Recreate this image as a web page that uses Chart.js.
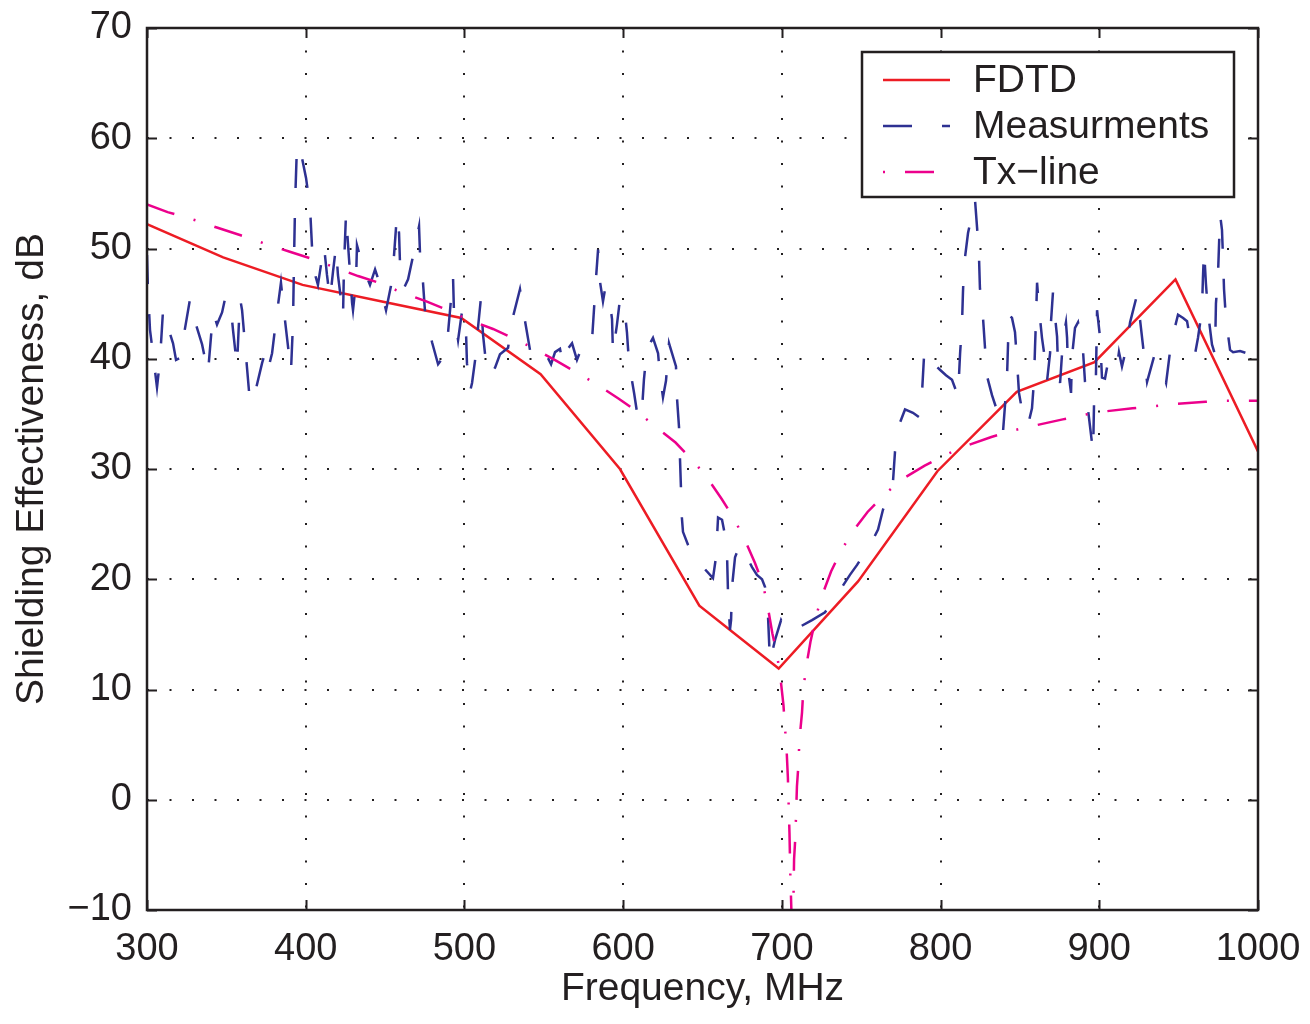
<!DOCTYPE html>
<html>
<head>
<meta charset="utf-8">
<title>Shielding Effectiveness</title>
<script src="https://cdn.jsdelivr.net/npm/chart.js@4.4.1/dist/chart.umd.min.js"></script>
<style>
  html, body { margin: 0; padding: 0; background: #fff; }
  #wrap { width: 1310px; height: 1024px; }
</style>
</head>
<body>
<div id="wrap"><canvas id="seChart" width="1310" height="1024"></canvas></div>
<script>
// FDTD simulation, coarse frequency grid
var fdtdFreq = [300, 348, 398, 448, 498, 548, 598, 648, 698, 748, 798, 848, 897, 948, 1000];
var fdtdSE = [52.2, 49.2, 46.7, 45.2, 43.7, 38.6, 30.0, 17.6, 11.9, 19.8, 29.8, 37.0, 39.7, 47.2, 31.6];

// measured shielding effectiveness (noisy sweep)
var measFreq = [
  300.0, 300.6, 301.9, 303.2, 306.3, 308.2, 310.1, 312.0, 316.4, 318.3,
  321.4, 322.7, 327.1, 329.6, 334.7, 338.4, 341.6, 344.1, 347.3, 349.1,
  352.3, 354.2, 356.7, 358.6, 359.9, 361.7, 364.9, 367.4, 372.5, 374.3,
  376.2, 378.8, 381.3, 384.4, 386.3, 390.7, 392.0, 392.6, 393.3, 394.5,
  396.4, 400.2, 402.7, 404.6, 407.7, 411.5, 413.4, 415.3, 417.2, 419.1,
  420.3, 422.2, 423.5, 424.1, 425.4, 426.6, 429.2, 429.8, 431.7, 432.3,
  436.1, 440.5, 443.7, 446.2, 450.6, 453.7, 455.6, 457.5, 458.8, 459.4,
  461.9, 464.5, 467.6, 471.4, 472.0, 473.9, 475.2, 479.6, 483.4, 485.9,
  489.7, 491.5, 492.8, 493.4, 496.0, 498.5, 499.1, 501.0, 501.6, 503.5,
  504.8, 507.3, 508.6, 510.4, 511.7, 513.6, 516.1, 519.3, 522.4, 527.5,
  530.6, 535.0, 538.2, 541.3, 545.7, 550.8, 554.6, 557.1, 560.2, 562.1,
  564.6, 567.8, 570.9, 572.8, 576.6, 580.4, 581.6, 582.9, 584.2, 585.4,
  587.3, 588.6, 590.5, 593.0, 593.6, 596.1, 598.0, 599.3, 601.2, 602.4,
  603.7, 606.9, 609.4, 611.9, 613.1, 615.0, 618.8, 622.0, 623.2, 625.1,
  627.0, 628.9, 633.3, 633.9, 635.2, 635.8, 636.4, 637.0, 637.7, 640.9,
  645.3, 651.6, 656.6, 658.5, 659.8, 662.3, 664.2, 665.5, 666.1, 667.3,
  668.0, 668.6, 670.5, 673.6, 675.5, 681.2, 684.3, 687.5, 689.4, 691.3,
  692.5, 695.7, 699.5, 702.6, 705.8, 711.5, 719.0, 727.2, 736.6, 742.9,
  747.4, 757.4, 760.6, 763.7, 770.0, 771.3, 774.4, 777.6, 782.6, 786.4,
  788.3, 789.6, 791.5, 795.9, 799.6, 803.4, 807.2, 811.0, 812.3, 813.5,
  814.1, 814.8, 817.3, 821.7, 823.0, 824.2, 824.8, 826.7, 828.0, 829.3,
  832.4, 834.9, 839.3, 840.6, 841.9, 842.5, 843.1, 845.0, 846.9, 848.2,
  849.4, 852.6, 855.1, 857.6, 858.9, 859.5, 860.1, 860.8, 862.0, 863.9,
  866.4, 867.1, 869.0, 869.6, 870.8, 871.5, 873.4, 874.0, 875.3, 877.2,
  879.0, 879.7, 880.3, 882.2, 882.8, 884.7, 886.6, 889.8, 891.0, 892.9,
  894.8, 896.1, 896.7, 897.9, 898.6, 900.5, 901.7, 903.6, 905.5, 908.0,
  911.2, 912.4, 914.3, 916.8, 919.4, 923.8, 925.7, 927.6, 930.1, 934.5,
  938.3, 942.1, 945.2, 949.6, 952.8, 955.3, 958.4, 960.3, 962.2, 964.7,
  965.3, 966.0, 967.2, 968.5, 971.0, 972.9, 973.5, 974.8, 976.1, 977.3,
  978.0, 978.6, 979.8, 982.4, 984.3, 988.7, 995.0, 1000.0
];
var measSE = [
  49.4, 46.3, 42.6, 41.1, 37.4, 39.9, 44.4, 43.4, 41.4, 39.9,
  40.1, 41.7, 45.4, 43.7, 41.3, 38.7, 44.2, 43.1, 44.2, 45.4,
  45.4, 42.6, 39.3, 45.5, 44.4, 41.4, 36.0, 36.5, 39.6, 40.5,
  39.0, 40.5, 43.5, 46.9, 44.3, 38.8, 43.3, 48.7, 54.1, 59.4,
  59.1, 56.4, 53.8, 48.3, 46.7, 50.3, 47.6, 45.4, 47.9, 50.2,
  47.6, 45.4, 43.8, 48.3, 53.2, 50.5, 45.1, 44.4, 47.0, 50.3,
  48.3, 46.7, 48.1, 47.0, 44.4, 46.6, 49.3, 53.1, 51.4, 48.7,
  46.4, 47.2, 49.3, 52.0, 49.6, 46.9, 44.2, 41.5, 39.5, 40.0,
  42.4, 45.3, 47.5, 44.3, 41.7, 44.3, 44.4, 42.4, 39.6, 37.0,
  37.8, 40.5, 42.9, 45.5, 42.2, 39.6, 38.5, 39.2, 40.4, 41.0,
  43.8, 46.3, 43.4, 40.8, 39.9, 40.6, 39.5, 40.6, 40.9, 39.5,
  40.8, 41.4, 39.9, 40.6, 40.4, 41.7, 44.4, 47.3, 49.9, 47.0,
  45.2, 46.3, 46.3, 43.6, 40.5, 43.1, 45.4, 45.0, 44.1, 42.4,
  39.6, 36.9, 34.5, 35.4, 38.1, 40.9, 41.9, 40.5, 38.5, 36.5,
  38.0, 41.4, 39.3, 36.5, 33.8, 31.0, 28.4, 25.6, 24.3, 23.1,
  21.8, 20.9, 20.1, 22.0, 25.6, 25.4, 24.0, 22.0, 18.6, 15.4,
  16.3, 19.3, 22.0, 23.1, 22.7, 21.1, 20.4, 20.0, 19.3, 16.6,
  12.5, 14.5, 16.3, 15.4, 15.1, 15.7, 16.3, 17.0, 19.0, 20.4,
  21.3, 23.6, 24.5, 26.3, 28.8, 31.6, 34.2, 35.4, 35.1, 34.7,
  36.9, 40.3, 40.8, 39.5, 39.0, 38.5, 38.1, 36.6, 40.5, 43.1,
  46.0, 48.5, 51.4, 54.4, 51.9, 49.3, 46.4, 43.8, 41.0, 38.4,
  36.7, 35.6, 33.3, 35.8, 38.5, 41.3, 44.0, 43.7, 42.4, 39.7,
  36.9, 34.3, 34.0, 35.5, 38.1, 41.0, 43.5, 46.9, 44.6, 41.9,
  39.3, 38.0, 40.5, 43.4, 46.0, 44.7, 42.0, 39.2, 37.8, 41.9,
  43.3, 41.9, 39.0, 36.9, 40.2, 42.8, 43.3, 40.6, 37.9, 35.4,
  33.1, 31.5, 36.0, 38.5, 44.4, 41.9, 38.3, 38.2, 39.7, 39.0,
  39.3, 40.6, 39.3, 40.8, 43.3, 45.8, 43.5, 41.1, 37.9, 40.2,
  39.6, 37.8, 41.4, 44.0, 43.7, 43.4, 40.8, 40.4, 41.9, 44.4,
  47.3, 49.9, 46.8, 44.2, 41.3, 40.4, 45.0, 47.6, 53.1, 51.7,
  49.0, 46.3, 43.6, 40.8, 40.6, 40.7, 40.4, 40.1
];

// transmission-line model
var txFreq = [
  300, 313, 332, 344, 359, 373, 390, 403, 420, 433,
  446, 459, 476, 488, 500, 518, 530, 543, 558, 570,
  582, 597, 609, 619, 633, 643, 652, 662, 669, 676,
  683, 688, 691, 694, 697, 699, 701, 702, 703, 703.8,
  704.2, 704.8, 705.3, 706, 706.8, 707.7, 708.5, 709.5, 710.5, 711,
  712.7, 713.4, 715, 718, 721, 724.5, 731, 737, 744, 754,
  764, 776, 790, 802, 814, 832, 846, 858, 877, 890,
  902, 921, 935, 948, 967, 980, 1000
];
var txSE = [
  54.0, 53.3, 52.5, 51.9, 51.2, 50.5, 49.7, 49.1, 48.2, 47.5,
  46.9, 46.1, 45.2, 44.5, 43.7, 42.7, 41.9, 41.0, 39.8, 38.8,
  37.8, 36.4, 35.2, 34.0, 32.4, 30.9, 29.4, 27.3, 25.7, 23.8,
  21.5, 19.6, 17.6, 15.1, 13.1, 11.2, 8.6, 6.5, 4.5, 2.0,
  0.0, -3.0, -6.6, -10.0, -14.0, -5.4, -3.4, 1.2, 3.3, 5.3,
  7.9, 9.7, 11.8, 14.3, 16.3, 18.2, 20.7, 22.5, 24.2, 26.1,
  27.6, 29.1, 30.3, 31.2, 32.0, 32.9, 33.5, 33.9, 34.5, 34.9,
  35.2, 35.5, 35.7, 35.9, 36.1, 36.2, 36.2
];

var seriesNames = ["FDTD", "Measurments", "Tx\u2212line"];
var xTitle = "Frequency, MHz";
var yTitle = "Shielding Effectiveness, dB";

(function () {
  var ink = "#231f20";
  var fontFamily = "'Liberation Sans', Arial, Helvetica, sans-serif";
  var red = "#ed1c24";
  var blue = "#2e3192";
  var magenta = "#ec008c";
  var measDash = [29, 30];
  var txDash = [29, 20, 2, 20];

  function pairs(xs, ys) {
    return xs.map(function (x, i) {
      return { x: x, y: ys[i] };
    });
  }

  // box, inward tick marks and the legend, MATLAB style
  var framePlugin = {
    id: "frame",
    afterDraw: function (chart) {
      var ctx = chart.ctx;
      var a = chart.chartArea;
      var xs = chart.scales.x;
      var ys = chart.scales.y;
      var tick = 10;
      ctx.save();
      ctx.setLineDash([]);
      ctx.strokeStyle = ink;
      ctx.lineWidth = 2;
      ctx.beginPath();
      xs.ticks.forEach(function (t) {
        var px = Math.round(xs.getPixelForValue(t.value)) + 0.5;
        ctx.moveTo(px, a.bottom);
        ctx.lineTo(px, a.bottom - tick);
        ctx.moveTo(px, a.top);
        ctx.lineTo(px, a.top + tick);
      });
      ys.ticks.forEach(function (t) {
        var py = Math.round(ys.getPixelForValue(t.value)) + 0.5;
        ctx.moveTo(a.left, py);
        ctx.lineTo(a.left + tick, py);
        ctx.moveTo(a.right, py);
        ctx.lineTo(a.right - tick, py);
      });
      ctx.stroke();
      ctx.lineWidth = 2.5;
      ctx.strokeRect(a.left, a.top, a.right - a.left, a.bottom - a.top);

      // legend
      var bw = 372, bh = 145;
      var bx = a.right - 24 - bw;
      var by = a.top + 24;
      ctx.fillStyle = "#fff";
      ctx.fillRect(bx, by, bw, bh);
      ctx.lineWidth = 2.5;
      ctx.strokeRect(bx, by, bw, bh);
      var rows = [
        { label: seriesNames[0], color: red, dash: [], offset: 0 },
        { label: seriesNames[1], color: blue, dash: measDash, offset: 0 },
        { label: seriesNames[2], color: magenta, dash: txDash, offset: 49 },
      ];
      ctx.font = "39px " + fontFamily;
      ctx.textBaseline = "middle";
      ctx.textAlign = "left";
      rows.forEach(function (r, i) {
        var ry = by + 28 + i * 46;
        ctx.strokeStyle = r.color;
        ctx.lineWidth = 2.5;
        ctx.setLineDash(r.dash);
        ctx.lineDashOffset = r.offset;
        ctx.beginPath();
        ctx.moveTo(bx + 21, ry);
        ctx.lineTo(bx + 88, ry);
        ctx.stroke();
        ctx.setLineDash([]);
        ctx.lineDashOffset = 0;
        ctx.fillStyle = ink;
        ctx.fillText(r.label, bx + 111, ry + 1);
      });
      ctx.restore();
    },
  };

  var tickFont = { family: fontFamily, size: 38, lineHeight: 1.2 };
  var titleFont = { family: fontFamily, size: 39, lineHeight: 1.2 };

  var canvas = document.getElementById("seChart");
  new Chart(canvas, {
    type: "line",
    data: {
      datasets: [
        {
          label: seriesNames[0],
          data: pairs(fdtdFreq, fdtdSE),
          borderColor: red,
          borderWidth: 2.5,
          pointRadius: 0,
          tension: 0,
          order: 2,
        },
        {
          label: seriesNames[1],
          data: pairs(measFreq, measSE),
          borderColor: blue,
          borderWidth: 2.5,
          borderDash: measDash,
          pointRadius: 0,
          tension: 0,
          order: 1,
        },
        {
          label: seriesNames[2],
          data: pairs(txFreq, txSE),
          borderColor: magenta,
          borderWidth: 2.5,
          borderDash: txDash,
          pointRadius: 0,
          tension: 0,
          order: 0,
        },
      ],
    },
    options: {
      responsive: false,
      animation: false,
      devicePixelRatio: 1,
      layout: { padding: { left: 0, top: 28, right: 52, bottom: 0 } },
      plugins: {
        legend: { display: false },
        tooltip: { enabled: false },
      },
      scales: {
        x: {
          type: "linear",
          min: 300,
          max: 1000,
          afterFit: function (s) {
            s.height = 114;
            s.paddingLeft = 0;
            s.paddingRight = 0;
          },
          ticks: {
            stepSize: 100,
            padding: 17,
            color: ink,
            font: tickFont,
            maxRotation: 0,
            callback: function (v) {
              return String(v);
            },
          },
          grid: { color: ink, lineWidth: 2, drawTicks: false },
          border: { display: false, dash: [2, 20.5] },
          title: {
            display: true,
            text: xTitle,
            color: ink,
            font: titleFont,
            padding: { top: 0, bottom: 11 },
          },
        },
        y: {
          type: "linear",
          min: -10,
          max: 70,
          afterFit: function (s) {
            s.width = 147;
            s.paddingTop = 0;
            s.paddingBottom = 0;
          },
          ticks: {
            stepSize: 10,
            padding: 15,
            color: ink,
            font: tickFont,
            callback: function (v) {
              return String(v).replace("-", "\u2212");
            },
          },
          grid: { color: ink, lineWidth: 2, drawTicks: false },
          border: { display: false, dash: [2, 20.5] },
          title: {
            display: true,
            text: yTitle,
            color: ink,
            font: titleFont,
            padding: { top: 9, bottom: 0 },
          },
        },
      },
    },
    plugins: [framePlugin],
  });
})();
</script>
</body>
</html>
